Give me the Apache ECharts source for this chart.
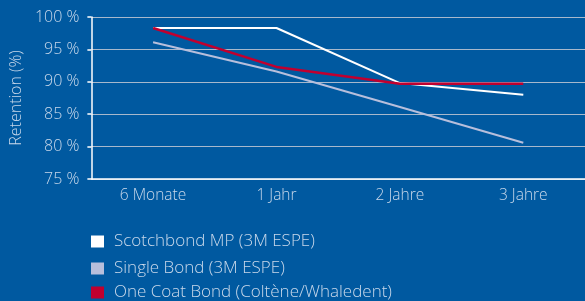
<!DOCTYPE html>
<html>
<head>
<meta charset="utf-8">
<script src="https://cdn.jsdelivr.net/npm/echarts@6/dist/echarts.min.js"></script>
<style>
  html, body { margin: 0; padding: 0; background: #0059a0; }
  #chart { width: 585px; height: 301px; }
</style>
</head>
<body>
<div id="chart"></div>
<script>
const categories = ['6 Monate', '1 Jahr', '2 Jahre', '3 Jahre'];
const scotchbond = [98.3, 98.3, 89.8, 88.0];
const singleBond = [96.1, 91.6, 86.1, 80.6];
const oneCoat = [98.3, 92.3, 89.7, 89.7];
const yTicks = [75, 80, 85, 90, 95, 100];
const seriesNames = ['Scotchbond MP (3M ESPE)', 'Single Bond (3M ESPE)', 'One Coat Bond (Coltène/Whaledent)'];

const textColor = '#c9d9eb';
const font = "'Open Sans', 'Noto Sans', sans-serif";

const chart = echarts.init(document.getElementById('chart'));

// one legend per row so the three entries stack like the original
const legendTops = [228, 255, 279];
const legends = seriesNames.map((name, i) => ({
  left: 86,
  top: legendTops[i],
  itemWidth: 13,
  itemHeight: 12,
  icon: 'rect',
  textStyle: { color: textColor, fontSize: 17, fontWeight: 300, fontFamily: font, padding: [0, 0, 0, 5] },
  data: [name]
}));

chart.setOption({
  backgroundColor: '#0059a0',
  animation: false,
  textStyle: { fontFamily: font },
  grid: { left: 91, top: 17, bottom: 122, right: -6 },
  legend: legends,
  xAxis: {
    type: 'category',
    data: categories,
    boundaryGap: true,
    axisLine: { lineStyle: { color: '#ffffff', width: 1.5 } },
    axisTick: { length: 5, lineStyle: { color: '#ffffff', width: 1.5 } },
    axisLabel: { color: textColor, fontSize: 15.5, fontWeight: 300, margin: 9 }
  },
  yAxis: {
    type: 'value',
    min: yTicks[0],
    max: yTicks[yTicks.length - 1],
    interval: 5,
    name: 'Retention (%)',
    nameLocation: 'middle',
    nameGap: 65,
    nameTextStyle: { color: textColor, fontSize: 16, fontWeight: 300 },
    axisLine: { show: true, lineStyle: { color: '#ffffff', width: 1.5 } },
    axisTick: { show: true, length: 4, lineStyle: { color: '#ffffff', width: 1.5 } },
    axisLabel: { color: textColor, fontSize: 16, fontWeight: 300, margin: 12, formatter: v => v + ' %' },
    splitLine: { lineStyle: { color: '#a7b8cc', width: 1.2 } }
  },
  series: [
    {
      name: seriesNames[0],
      type: 'line',
      data: scotchbond,
      symbol: 'none',
      itemStyle: { color: '#ffffff' },
      lineStyle: { color: '#ffffff', width: 2 }
    },
    {
      name: seriesNames[1],
      type: 'line',
      data: singleBond,
      symbol: 'none',
      itemStyle: { color: '#b7bfdc' },
      lineStyle: { color: '#b7bfdc', width: 2 }
    },
    {
      name: seriesNames[2],
      type: 'line',
      data: oneCoat,
      symbol: 'none',
      itemStyle: { color: '#c0002f' },
      lineStyle: { color: '#c0002f', width: 2.5 }
    }
  ]
});
</script>
</body>
</html>
